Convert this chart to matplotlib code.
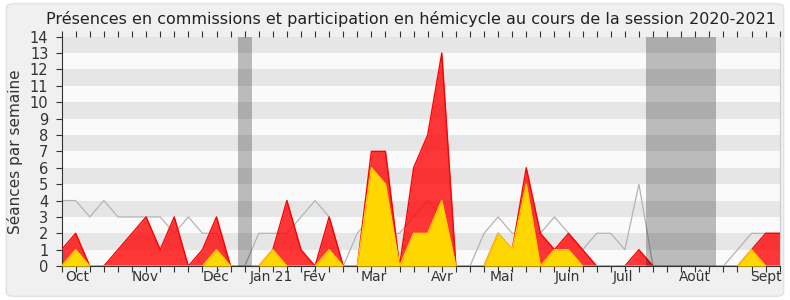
import numpy as np
import matplotlib
matplotlib.use('Agg')
import matplotlib.pyplot as plt
from matplotlib.patches import FancyBboxPatch

plt.rcParams['font.family'] = ['DejaVu Sans']

# weekly values, session 2020-2021 (52 weeks)
presence_total = [1, 2, 0, 0, 1, 2, 3, 1, 3, 0, 1, 3, 0, 0, 0, 1, 4, 1, 0, 3,
                  0, 0, 7, 7, 0, 6, 8, 13, 0, 0, 0, 2, 1, 6, 2, 1, 2, 1, 0, 0,
                  0, 1, 0, 0, 0, 0, 0, 0, 0, 1, 2, 2]
presence_hemicycle = [0, 1, 0, 0, 0, 0, 0, 0, 0, 0, 0, 1, 0, 0, 0, 1, 0, 0, 0, 1,
                      0, 0, 6, 5, 0, 2, 2, 4, 0, 0, 0, 2, 1, 5, 0, 1, 1, 0, 0, 0,
                      0, 0, 0, 0, 0, 0, 0, 0, 0, 1, 0, 0]
mediane = [4, 4, 3, 4, 3, 3, 3, 3, 2, 3, 2, 2, 0, 0, 2, 2, 2, 3, 4, 3,
           0, 2, 3, 2, 2, 3, 4, 3, 0, 0, 2, 3, 2, 2, 2, 3, 2, 1, 2, 2,
           1, 5, 0, 0, 0, 0, 0, 0, 1, 2, 2, 2]
vacances = [(12.5, 13.5), (41.5, 46.5)]
mois = ['Oct', 'Nov', 'Déc', 'Jan 21', 'Fév', 'Mar', 'Avr', 'Mai', 'Juin', 'Juil', 'Août', 'Sept']
mois_pos = [1.12, 5.92, 10.96, 14.87, 18.0, 22.2, 27.0, 31.3, 35.94, 39.9, 44.98, 50.0]

semaines = np.arange(len(presence_total))

fig = plt.figure(figsize=(7.9, 3.0), dpi=100, facecolor='#ffffff')
fig.patches.append(FancyBboxPatch((0.008, 0.012), 0.984, 0.976, boxstyle='round,pad=0,rounding_size=0.012',
                                  transform=fig.transFigure, facecolor='#f0f0f0', edgecolor='#e2e2e2',
                                  lw=1, zorder=-10))
ax = fig.add_axes([0.078, 0.113, 0.909, 0.765])
ax.set_facecolor('#fafafa')

# bandes horizontales
for y in range(1, 14, 2):
    ax.axhspan(y, y + 1, color='#e6e6e6', lw=0, zorder=0)

ax.plot(semaines, mediane, color='#b4b4b4', lw=0.9, zorder=1)
ax.fill_between(semaines, presence_total, color='#ff0000', alpha=0.78, lw=0, zorder=2)
ax.plot(semaines, presence_total, color='#ff0000', lw=1, zorder=3)
ax.fill_between(semaines, presence_hemicycle, color='#ffd700', lw=0, zorder=4)
ax.plot(semaines, presence_hemicycle, color='#ffcc00', lw=1, zorder=5)

for a, b in vacances:
    ax.axvspan(a, b, color='#000000', alpha=0.25, lw=0, zorder=6)

ax.set_xlim(0, len(semaines) - 1)
ax.set_ylim(0, 14)
ax.set_yticks(range(0, 15))
ax.xaxis.remove_overlapping_locs = False
ax.set_xticks(semaines)
ax.set_xticklabels([])
ax.set_xticks(mois_pos, minor=True)
ax.set_xticklabels(mois, minor=True)
ax.tick_params(axis='x', which='major', length=4, top=True, direction='out', color='#333333')
ax.tick_params(axis='x', which='major', top=True, length=1.2)
ax.tick_params(axis='x', which='major', bottom=True, length=4)
ax.tick_params(axis='x', which='minor', length=0, labelsize=10, pad=3, colors='#333333')
ax.tick_params(axis='y', length=4, labelsize=10.5, pad=5.5, colors='#333333')

ax.spines['top'].set_visible(False)
ax.spines['right'].set_color('#cccccc')
ax.spines['left'].set_color('#333333')
ax.spines['bottom'].set_color('#333333')

ax.set_ylabel('Séances par semaine', fontsize=11, color='#333333', labelpad=5)
ax.set_title('Présences en commissions et participation en hémicycle au cours de la session 2020-2021',
             fontsize=11.5, color='#222222', pad=9, x=0.487)

fig.savefig('out.png', dpi=100, facecolor=fig.get_facecolor())
